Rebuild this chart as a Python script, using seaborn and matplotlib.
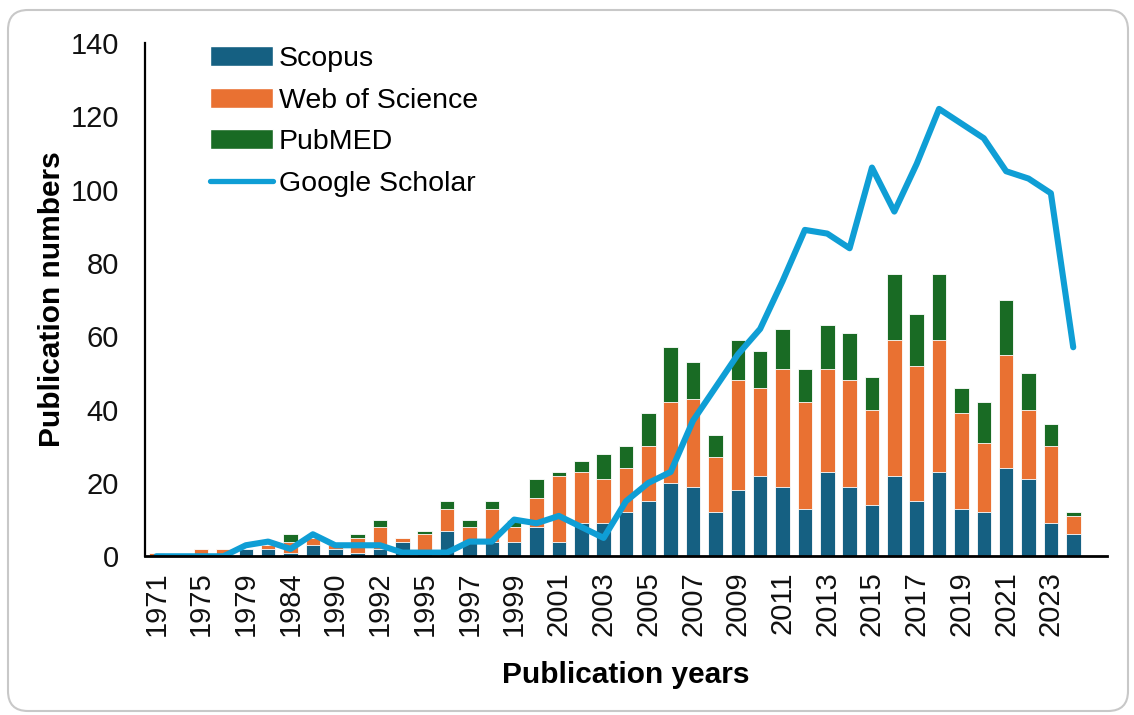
import numpy as np
import pandas as pd
import matplotlib
matplotlib.use("Agg")
import matplotlib.pyplot as plt
import seaborn as sns
from matplotlib.patches import Patch, FancyBboxPatch
from matplotlib.lines import Line2D

# Data
years = ['1971', '1973', '1975', '1977', '1979', '1982', '1984', '1987', '1990',
         '1991', '1992', '1994', '1995', '1996', '1997', '1998', '1999'] + \
        [str(y) for y in range(2000, 2025)]
scopus = [0, 0, 0, 0, 2, 2, 1, 3, 2, 1, 2, 4, 1, 7, 4, 4, 4,
          8, 4, 9, 9, 12, 15, 20, 19, 12, 18, 22, 19, 13, 23, 19, 14, 22, 15, 23, 13, 12, 24, 21, 9, 6]
wos = [1, 0, 2, 2, 0, 1, 3, 2, 1, 4, 6, 1, 5, 6, 4, 9, 4,
       8, 18, 14, 12, 12, 15, 22, 24, 15, 30, 24, 32, 29, 28, 29, 26, 37, 37, 36, 26, 19, 31, 19, 21, 5]
pubmed = [0, 0, 0, 0, 0, 0, 2, 0, 0, 1, 2, 0, 1, 2, 2, 2, 2,
          5, 1, 3, 7, 6, 9, 15, 10, 6, 11, 10, 11, 9, 12, 13, 9, 18, 14, 18, 7, 11, 15, 10, 6, 1]
google_scholar = [0, 0, 0, 0, 3, 4, 2, 6, 3, 3, 3, 1, 1, 1, 4, 4, 10,
                  9, 11, 8, 5, 15, 20, 23, 37, 46, 55, 62, 75, 89, 88, 84, 106, 94, 107, 122, 118, 114, 105, 103, 99, 57]

c_scopus = '#156082'
c_wos = '#E97132'
c_pubmed = '#196B24'
c_gs = '#0F9ED5'

df = pd.DataFrame({'year': years, 'scopus': scopus, 'wos': wos,
                   'pubmed': pubmed, 'gs': google_scholar})
df['s_w'] = df['scopus'] + df['wos']
df['total'] = df['s_w'] + df['pubmed']

sns.set_style('white')
plt.rcParams['font.family'] = ['Liberation Sans', 'DejaVu Sans']
plt.rcParams['text.color'] = 'black'
plt.rcParams['axes.labelcolor'] = 'black'

fig = plt.figure(figsize=(11.34, 7.15), dpi=100)
ax = fig.add_axes([0.128, 0.222, 0.848, 0.718])

# stacked bars: draw totals first, then overlay the lower parts
bar_kw = dict(order=years, width=0.65, saturation=1, edgecolor='white',
              linewidth=0.6, errorbar=None, ax=ax)
sns.barplot(data=df, x='year', y='total', color=c_pubmed, **bar_kw)
sns.barplot(data=df, x='year', y='s_w', color=c_wos, **bar_kw)
sns.barplot(data=df, x='year', y='scopus', color=c_scopus, **bar_kw)

sns.lineplot(x=np.arange(len(years)), y=df['gs'], color=c_gs, linewidth=4.4,
             solid_capstyle='round', solid_joinstyle='round', ax=ax)

ax.set_xlim(-0.5, len(years) + 0.5)
ax.set_ylim(0, 140)
ax.set_yticks(range(0, 141, 20))
ax.set_xticks(range(0, len(years), 2))
ax.set_xticklabels(years[::2], rotation=90)
ax.tick_params(axis='both', length=0, labelsize=21, labelcolor='#111111')
ax.tick_params(axis='y', pad=19)
ax.tick_params(axis='x', pad=11)

for s in ['top', 'right']:
    ax.spines[s].set_visible(False)
for s in ['left', 'bottom']:
    ax.spines[s].set_color('black')
ax.spines['left'].set_linewidth(1.6)
ax.spines['bottom'].set_linewidth(2.0)

ax.set_xlabel('Publication years', fontsize=21.5, fontweight='bold', labelpad=18)
ax.set_ylabel('Publication numbers', fontsize=21.5, fontweight='bold', labelpad=3)

handles = [Patch(facecolor=c_scopus, edgecolor='white', label='Scopus'),
           Patch(facecolor=c_wos, edgecolor='white', label='Web of Science'),
           Patch(facecolor=c_pubmed, edgecolor='white', label='PubMED'),
           Line2D([0], [0], color=c_gs, linewidth=3.8, solid_capstyle='round',
                  label='Google Scholar')]
ax.legend(handles=handles, loc='upper left', bbox_to_anchor=(0.053, 1.022),
          frameon=False, fontsize=20.5, handlelength=2.2, handleheight=0.7,
          handletextpad=0.2, labelspacing=0.55, borderpad=0)

# rounded chart-area border
border = FancyBboxPatch((0.08, 0.04), 11.2, 7.01, boxstyle='round,pad=0,rounding_size=0.2',
                        transform=fig.dpi_scale_trans, facecolor='none',
                        edgecolor='#c8c8c8', linewidth=1.5)
fig.patches.append(border)

fig.savefig('out.png', dpi=100)
